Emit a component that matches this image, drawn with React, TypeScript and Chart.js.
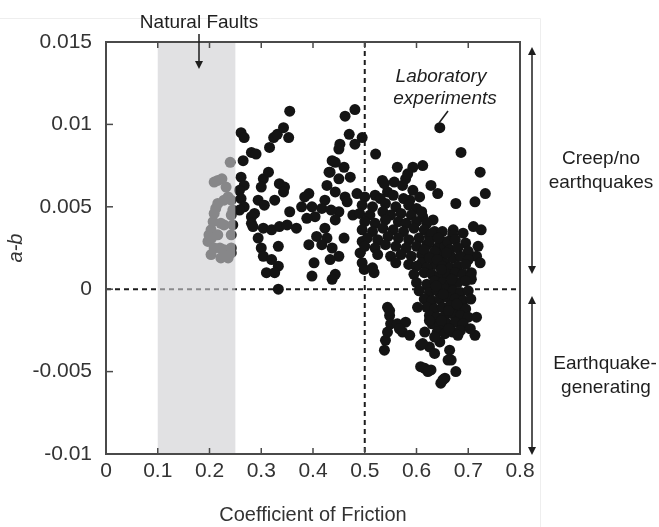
import React, { useEffect, useRef } from "react";
import { Chart, registerables } from "chart.js";

Chart.register(...registerables);

const xTickValues = [0, 0.1, 0.2, 0.3, 0.4, 0.5, 0.6, 0.7, 0.8];
const xTickLabels = ["0", "0.1", "0.2", "0.3", "0.4", "0.5", "0.6", "0.7", "0.8"];
const yTickValues = [-0.01, -0.005, 0, 0.005, 0.01, 0.015];
const yTickLabels = ["-0.01", "-0.005", "0", "0.005", "0.01", "0.015"];

const naturalFaultBand = [0.1, 0.25];
const stabilityBoundary = 0;
const frictionRefLine = 0.5;

// [coefficient of friction, a-b]
const pointsLowFriction: [number, number][] = [
  [0.240, 0.0077], [0.216, 0.0066], [0.224, 0.0067], [0.209, 0.0065], [0.236, 0.0056],
  [0.228, 0.0054], [0.242, 0.0054], [0.216, 0.0052], [0.212, 0.0049], [0.245, 0.0048],
  [0.209, 0.0046], [0.242, 0.0045], [0.207, 0.0041], [0.222, 0.0040], [0.245, 0.0039],
  [0.228, 0.0039], [0.203, 0.0036], [0.199, 0.0033], [0.216, 0.0033], [0.242, 0.0033],
  [0.197, 0.0029], [0.209, 0.0025], [0.220, 0.0025], [0.228, 0.0024], [0.242, 0.0025],
  [0.203, 0.0021], [0.222, 0.0019], [0.236, 0.0019], [0.242, 0.0022], [0.232, 0.0062],
  [0.204, 0.0031],
];

const pointsMidFriction: [number, number][] = [
  [0.261, 0.0095], [0.267, 0.0092], [0.265, 0.0078], [0.281, 0.0083], [0.290, 0.0082],
  [0.316, 0.0086], [0.324, 0.0092], [0.331, 0.0094], [0.343, 0.0098], [0.353, 0.0092],
  [0.355, 0.0108], [0.261, 0.0068], [0.267, 0.0063], [0.258, 0.0060], [0.304, 0.0067],
  [0.314, 0.0071], [0.300, 0.0062], [0.335, 0.0064], [0.345, 0.0062], [0.343, 0.0059],
  [0.294, 0.0054], [0.261, 0.0055], [0.267, 0.0050], [0.306, 0.0051], [0.326, 0.0054],
  [0.287, 0.0046], [0.281, 0.0044], [0.281, 0.0040], [0.284, 0.0038], [0.304, 0.0037],
  [0.320, 0.0036], [0.335, 0.0038], [0.294, 0.0031], [0.333, 0.0026], [0.300, 0.0025],
  [0.304, 0.0020], [0.320, 0.0018], [0.333, 0.0014], [0.310, 0.0010], [0.326, 0.0010],
  [0.333, 0.0000], [0.258, 0.0048], [0.355, 0.0047], [0.350, 0.0039],
  [0.392, 0.0058], [0.378, 0.0050], [0.368, 0.0037], [0.404, 0.0044], [0.423, 0.0054],
  [0.431, 0.0071], [0.437, 0.0078], [0.481, 0.0109], [0.462, 0.0105], [0.470, 0.0094],
  [0.495, 0.0092], [0.481, 0.0088], [0.452, 0.0088], [0.450, 0.0085], [0.443, 0.0077],
  [0.460, 0.0074], [0.433, 0.0071], [0.472, 0.0068], [0.450, 0.0067], [0.427, 0.0063],
  [0.443, 0.0059], [0.462, 0.0056], [0.466, 0.0053], [0.450, 0.0047], [0.384, 0.0056],
  [0.398, 0.0050], [0.417, 0.0049], [0.388, 0.0043], [0.443, 0.0042], [0.435, 0.0048],
  [0.423, 0.0037], [0.407, 0.0032], [0.427, 0.0031], [0.392, 0.0027], [0.417, 0.0027],
  [0.437, 0.0025], [0.460, 0.0031], [0.450, 0.0020], [0.433, 0.0018], [0.402, 0.0016],
  [0.398, 0.0008], [0.443, 0.0009], [0.437, 0.0006], [0.495, 0.0029], [0.491, 0.0022],
  [0.495, 0.0016], [0.499, 0.0012], [0.518, 0.0010], [0.515, 0.0013], [0.485, 0.0058],
  [0.477, 0.0045],
];

const pointsHighFriction: [number, number][] = [
  [0.521, 0.0082], [0.563, 0.0074], [0.534, 0.0066], [0.557, 0.0065], [0.579, 0.0067],
  [0.573, 0.0063], [0.520, 0.0057], [0.544, 0.0059], [0.645, 0.0098], [0.686, 0.0083],
  [0.723, 0.0071], [0.733, 0.0058], [0.713, 0.0053], [0.676, 0.0052], [0.628, 0.0063],
  [0.641, 0.0058], [0.612, 0.0075], [0.593, 0.0074], [0.583, 0.0070], [0.538, 0.0064],
  [0.593, 0.0060], [0.606, 0.0056], [0.587, 0.0054], [0.632, 0.0042], [0.612, 0.0044],
  [0.671, 0.0036], [0.710, 0.0038], [0.725, 0.0036], [0.719, 0.0026], [0.716, 0.0020],
  [0.723, 0.0016], [0.706, 0.0010], [0.706, 0.0006],
  // dense group near the boundary
  [0.500, 0.0056], [0.530, 0.0055], [0.555, 0.0057], [0.575, 0.0055],
  [0.495, 0.0051], [0.515, 0.0050], [0.540, 0.0052], [0.560, 0.0050], [0.585, 0.0051], [0.600, 0.0049],
  [0.490, 0.0046], [0.510, 0.0045], [0.535, 0.0047], [0.550, 0.0045], [0.570, 0.0046], [0.590, 0.0045], [0.610, 0.0047],
  [0.500, 0.0041], [0.520, 0.0040], [0.540, 0.0042], [0.565, 0.0041], [0.580, 0.0040], [0.600, 0.0041], [0.620, 0.0040],
  [0.495, 0.0036], [0.515, 0.0035], [0.535, 0.0037], [0.555, 0.0036], [0.575, 0.0035], [0.595, 0.0037], [0.615, 0.0036], [0.635, 0.0035],
  [0.505, 0.0031], [0.525, 0.0030], [0.545, 0.0032], [0.565, 0.0031], [0.585, 0.0030], [0.605, 0.0031], [0.625, 0.0032], [0.645, 0.0030],
  [0.500, 0.0026], [0.520, 0.0025], [0.540, 0.0027], [0.560, 0.0026], [0.580, 0.0025], [0.600, 0.0026], [0.620, 0.0027], [0.640, 0.0025], [0.655, 0.0026],
  [0.525, 0.0021], [0.550, 0.0020], [0.570, 0.0021], [0.590, 0.0020], [0.610, 0.0021], [0.630, 0.0020], [0.650, 0.0021],
  [0.560, 0.0016], [0.585, 0.0015], [0.610, 0.0016], [0.635, 0.0015], [0.655, 0.0016],
  [0.630, 0.0034], [0.650, 0.0035], [0.670, 0.0033], [0.690, 0.0034],
  [0.625, 0.0029], [0.660, 0.0029], [0.675, 0.0030], [0.695, 0.0028],
  [0.615, 0.0024], [0.635, 0.0023], [0.665, 0.0024], [0.680, 0.0025], [0.700, 0.0023],
  [0.625, 0.0019], [0.640, 0.0018], [0.670, 0.0019], [0.685, 0.0020], [0.700, 0.0018],
  [0.600, 0.0014], [0.620, 0.0013], [0.650, 0.0014], [0.665, 0.0013], [0.680, 0.0014], [0.695, 0.0015],
  [0.595, 0.0009], [0.615, 0.0010], [0.630, 0.0009], [0.645, 0.0008], [0.660, 0.0009], [0.675, 0.0010], [0.690, 0.0009], [0.705, 0.0008],
  [0.600, 0.0004], [0.620, 0.0003], [0.635, 0.0005], [0.650, 0.0004], [0.665, 0.0003], [0.680, 0.0004], [0.695, 0.0005],
  [0.605, -0.0001], [0.625, -0.0002], [0.640, -0.0001], [0.655, 0.0000], [0.670, -0.0001], [0.685, -0.0002], [0.700, -0.0001],
  [0.615, -0.0006], [0.630, -0.0007], [0.645, -0.0006], [0.660, -0.0005], [0.675, -0.0006], [0.690, -0.0007], [0.705, -0.0006],
  [0.620, -0.0011], [0.635, -0.0012], [0.650, -0.0011], [0.665, -0.0010], [0.680, -0.0011], [0.695, -0.0012],
  [0.625, -0.0016], [0.640, -0.0017], [0.655, -0.0016], [0.670, -0.0015], [0.685, -0.0016], [0.700, -0.0017],
  [0.630, -0.0021], [0.645, -0.0022], [0.660, -0.0021], [0.675, -0.0020], [0.690, -0.0021],
  [0.640, -0.0026], [0.655, -0.0027], [0.670, -0.0026], [0.685, -0.0025],
  [0.642, 0.0031], [0.658, 0.0022], [0.648, 0.0012], [0.668, 0.0006], [0.652, -0.0003],
  [0.662, -0.0013], [0.648, -0.0019], [0.663, -0.0024], [0.678, -0.0009], [0.638, 0.0002],
  // spread below the boundary
  [0.544, -0.0011], [0.548, -0.0016], [0.550, -0.0021], [0.540, -0.0031], [0.538, -0.0037],
  [0.563, -0.0021], [0.573, -0.0026], [0.587, -0.0028], [0.602, -0.0011], [0.616, -0.0026],
  [0.608, -0.0034], [0.625, -0.0035], [0.616, -0.0048], [0.628, -0.0049], [0.655, -0.0054],
  [0.647, -0.0057], [0.676, -0.0050], [0.664, -0.0037], [0.667, -0.0043], [0.645, -0.0032],
  [0.635, -0.0029], [0.716, -0.0017], [0.713, -0.0028], [0.704, -0.0024], [0.680, -0.0028],
  [0.625, -0.0019], [0.579, -0.0020], [0.567, -0.0024], [0.544, -0.0026], [0.612, -0.0033],
  [0.635, -0.0039], [0.661, -0.0043], [0.608, -0.0047], [0.622, -0.0050], [0.651, -0.0055],
  [0.548, -0.0013],
];

const allPoints = [...pointsLowFriction, ...pointsMidFriction, ...pointsHighFriction];

const FONT = "'Liberation Sans', Arial, Helvetica, sans-serif";

const annotationPlugin = {
  id: "annotations",
  beforeDatasetsDraw(chart: any) {
    const { ctx, chartArea, scales } = chart;
    const { left, right, top, bottom } = chartArea;
    ctx.save();
    ctx.strokeStyle = "#1c1c1c";
    ctx.lineWidth = 2;
    ctx.setLineDash([5, 4]);
    const y0 = scales.y.getPixelForValue(stabilityBoundary);
    ctx.beginPath();
    ctx.moveTo(left, y0);
    ctx.lineTo(right, y0);
    ctx.stroke();
    const x5 = scales.x.getPixelForValue(frictionRefLine);
    ctx.beginPath();
    ctx.moveTo(x5, top);
    ctx.lineTo(x5, bottom);
    ctx.stroke();
    ctx.restore();
  },
  afterDatasetsDraw(chart: any) {
    const { ctx, chartArea, scales } = chart;
    const { left, right, top, bottom } = chartArea;
    ctx.save();
    const bx0 = scales.x.getPixelForValue(naturalFaultBand[0]);
    const bx1 = scales.x.getPixelForValue(naturalFaultBand[1]);
    ctx.fillStyle = "rgba(206, 206, 210, 0.62)";
    ctx.fillRect(bx0, top, bx1 - bx0, bottom - top);
    ctx.strokeStyle = "#4a4a4a";
    ctx.lineWidth = 2;
    ctx.strokeRect(left, top, right - left, bottom - top);
    ctx.lineWidth = 1.5;
    xTickValues.forEach((v) => {
      if (v <= 0 || v >= 0.8) return;
      const px = scales.x.getPixelForValue(v);
      ctx.beginPath();
      ctx.moveTo(px, bottom);
      ctx.lineTo(px, bottom - 6);
      ctx.moveTo(px, top);
      ctx.lineTo(px, top + 6);
      ctx.stroke();
    });
    yTickValues.forEach((v) => {
      const py = scales.y.getPixelForValue(v);
      if (py <= top + 1 || py >= bottom - 1) return;
      ctx.beginPath();
      ctx.moveTo(left, py);
      ctx.lineTo(left + 7, py);
      ctx.stroke();
    });
    ctx.restore();
  },
  afterDraw(chart: any) {
    const { ctx } = chart;
    ctx.save();
    ctx.strokeStyle = "#eeeeee";
    ctx.lineWidth = 1;
    ctx.beginPath();
    ctx.moveTo(0, 18.5);
    ctx.lineTo(540.5, 18.5);
    ctx.lineTo(540.5, 527);
    ctx.stroke();

    ctx.fillStyle = "#1e1e1e";
    ctx.strokeStyle = "#1e1e1e";
    ctx.textAlign = "center";
    ctx.textBaseline = "middle";

    ctx.font = `19px ${FONT}`;
    ctx.fillText("Natural Faults", 199, 23);
    ctx.lineWidth = 1.5;
    ctx.beginPath();
    ctx.moveTo(199, 34);
    ctx.lineTo(199, 63);
    ctx.stroke();
    ctx.beginPath();
    ctx.moveTo(195, 61);
    ctx.lineTo(203, 61);
    ctx.lineTo(199, 69);
    ctx.closePath();
    ctx.fill();

    ctx.font = `italic 19px ${FONT}`;
    ctx.fillText("Laboratory", 441, 77);
    ctx.fillText("experiments", 445, 99);
    ctx.beginPath();
    ctx.moveTo(448, 111);
    ctx.lineTo(439, 123);
    ctx.stroke();

    const vArrow = (x: number, y1: number, y2: number) => {
      ctx.beginPath();
      ctx.moveTo(x, y1 + 6);
      ctx.lineTo(x, y2 - 6);
      ctx.stroke();
      ctx.beginPath();
      ctx.moveTo(x - 4, y1 + 8);
      ctx.lineTo(x + 4, y1 + 8);
      ctx.lineTo(x, y1);
      ctx.closePath();
      ctx.fill();
      ctx.beginPath();
      ctx.moveTo(x - 4, y2 - 8);
      ctx.lineTo(x + 4, y2 - 8);
      ctx.lineTo(x, y2);
      ctx.closePath();
      ctx.fill();
    };
    vArrow(532, 47, 274);
    vArrow(532, 296, 455);

    ctx.font = `19px ${FONT}`;
    ctx.fillText("Creep/no", 601, 159);
    ctx.fillText("earthquakes", 601, 183);
    ctx.fillText("Earthquake-", 605, 364);
    ctx.fillText("generating", 606, 388);
    ctx.restore();
  },
};

export default function App() {
  const canvasRef = useRef<HTMLCanvasElement | null>(null);

  useEffect(() => {
    if (!canvasRef.current) return;
    const chart = new Chart(canvasRef.current, {
      type: "scatter",
      data: {
        datasets: [
          {
            label: "Laboratory experiments",
            data: allPoints.map(([x, y]) => ({ x, y })),
            backgroundColor: "#141414",
            borderWidth: 0,
            pointRadius: 5.5,
            pointHoverRadius: 5.5,
          },
        ],
      },
      options: {
        animation: false,
        responsive: false,
        maintainAspectRatio: false,
        events: [],
        layout: { padding: { left: 0, right: 139, top: 42, bottom: 0 } },
        plugins: {
          legend: { display: false },
          tooltip: { enabled: false },
        },
        scales: {
          x: {
            type: "linear",
            min: 0,
            max: 0.8,
            afterBuildTicks: (scale: any) => {
              scale.ticks = xTickValues.map((v) => ({ value: v }));
            },
            afterFit: (scale: any) => {
              scale.height = 73;
            },
            ticks: {
              autoSkip: false,
              maxRotation: 0,
              padding: 5,
              color: "#333333",
              font: { size: 21, family: FONT },
              callback: (_v: any, i: number) => xTickLabels[i],
            },
            grid: { display: false, drawTicks: false },
            border: { display: false },
            title: {
              display: true,
              text: "Coefficient of Friction",
              color: "#333333",
              font: { size: 20, family: FONT },
              padding: { top: 0, bottom: 0 },
            },
          },
          y: {
            type: "linear",
            min: -0.01,
            max: 0.015,
            afterBuildTicks: (scale: any) => {
              scale.ticks = yTickValues.map((v) => ({ value: v }));
            },
            afterFit: (scale: any) => {
              scale.width = 106;
            },
            ticks: {
              autoSkip: false,
              padding: 14,
              color: "#333333",
              font: { size: 21, family: FONT },
              callback: (_v: any, i: number) => yTickLabels[i],
            },
            grid: { display: false, drawTicks: false },
            border: { display: false },
            title: {
              display: true,
              text: "a-b",
              color: "#333333",
              font: { size: 20, family: FONT, style: "italic" },
              padding: { top: 4, bottom: 0 },
            },
          },
        },
      },
      plugins: [annotationPlugin],
    } as any);
    return () => chart.destroy();
  }, []);

  return (
    <div style={{ position: "fixed", left: 0, top: 0, width: 659, height: 527, background: "#ffffff" }}>
      <canvas ref={canvasRef} width={659} height={527} style={{ display: "block" }} />
    </div>
  );
}
